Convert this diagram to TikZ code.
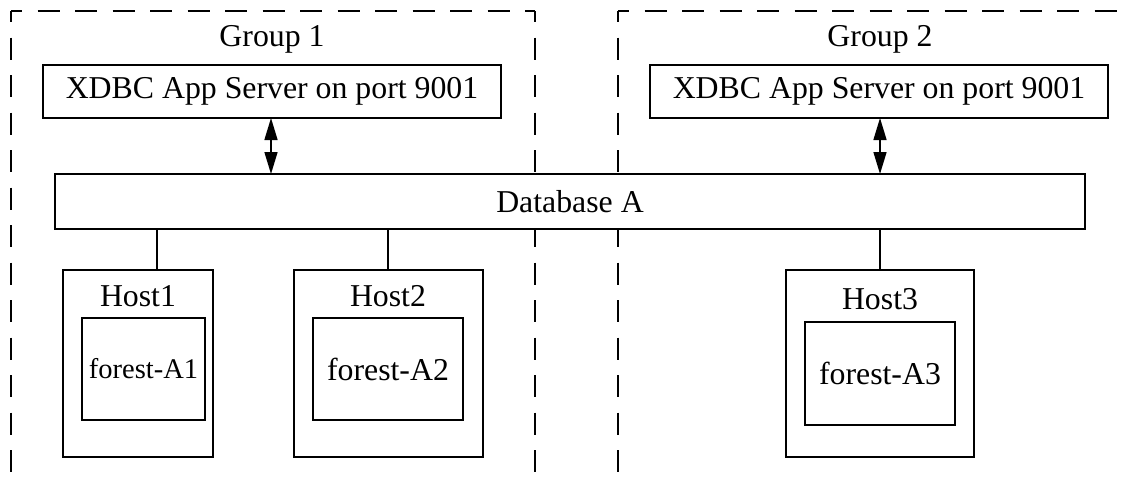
\documentclass[tikz,border=0pt]{standalone}
\usepackage{fontspec}
\setmainfont{Liberation Serif}
\usetikzlibrary{arrows.meta,calc}
\begin{document}
\begin{tikzpicture}[x=1pt,y=-1pt,
  box/.style={draw,fill=white,line width=1.5pt,inner sep=0pt,outer sep=0pt},
  lbl/.style={inner sep=0pt,font=\fontsize{31.8}{36}\selectfont},
  grp/.style={line width=1.5pt,dash pattern=on 22pt off 15.5pt,dash phase=11pt},
  conn/.style={line width=1.5pt},
  dbl/.style={line width=1.5pt,{Triangle[length=22pt,width=13pt]}-{Triangle[length=22pt,width=13pt]}}]
\useasboundingbox (0,0) rectangle (1132,482);
% group frames
\coordinate (g1tl) at (11,11);
\coordinate (g1tr) at (535,11);
\coordinate (g1bl) at (11,490);
\coordinate (g1br) at (535,490);
\coordinate (g2tl) at (618,11);
\coordinate (g2tr) at (1140,11);
\coordinate (g2bl) at (618,490);
\draw[grp] (g1tl) -- (g1tr);
\draw[grp] (g1tl) -- (g1bl);
\draw[grp] (g1tr) -- (g1br);
\draw[grp] (g2tl) -- (g2tr);
\draw[grp] (g2tl) -- (g2bl);
\node[lbl] (t1) at (272,39) {Group 1};
\node[lbl] (t2) at (880,39) {Group 2};
% app servers
\node[box,minimum width=458pt,minimum height=53pt] (x1) at (272,91.5) {};
\node[lbl] (x1t) at (x1) {XDBC App Server on port 9001};
\node[box,minimum width=458pt,minimum height=53pt] (x2) at (879,91.5) {};
\node[lbl] (x2t) at (x2) {XDBC App Server on port 9001};
% database
\node[box,minimum width=1030pt,minimum height=55pt] (db) at (570,201.5) {};
\node[lbl] (dbt) at (db) {Database A};
% arrows
\coordinate (a1) at (271,0);
\coordinate (a2) at (880,0);
\draw[dbl] (x1.south -| a1) -- (db.north -| a1);
\draw[dbl] (x2.south -| a2) -- (db.north -| a2);
% hosts
\node[box,minimum width=150pt,minimum height=187pt] (h1) at (138,363.5) {};
\node[box,minimum width=189pt,minimum height=187pt] (h2) at (388.5,363.5) {};
\node[box,minimum width=188pt,minimum height=187pt] (h3) at (880,363.5) {};
\node[lbl] (h1t) at (138,296) {Host1};
\node[lbl] (h2t) at (388,296) {Host2};
\node[lbl] (h3t) at (880,299) {Host3};
\node[box,minimum width=123pt,minimum height=102pt] (f1) at (143.5,369) {};
\node[box,minimum width=150pt,minimum height=102pt] (f2) at (388,369) {};
\node[box,minimum width=150pt,minimum height=103pt] (f3) at (880,373.5) {};
\node[lbl,font=\fontsize{28.5}{34}\selectfont] (f1t) at (f1) {forest-A1};
\node[lbl] (f2t) at (f2) {forest-A2};
\node[lbl] (f3t) at (f3) {forest-A3};
% connectors
\coordinate (c1) at (157,0);
\coordinate (c2) at (388,0);
\coordinate (c3) at (880,0);
\draw[conn] (db.south -| c1) -- (h1.north -| c1);
\draw[conn] (db.south -| c2) -- (h2.north -| c2);
\draw[conn] (db.south -| c3) -- (h3.north -| c3);
\end{tikzpicture}
\end{document}
